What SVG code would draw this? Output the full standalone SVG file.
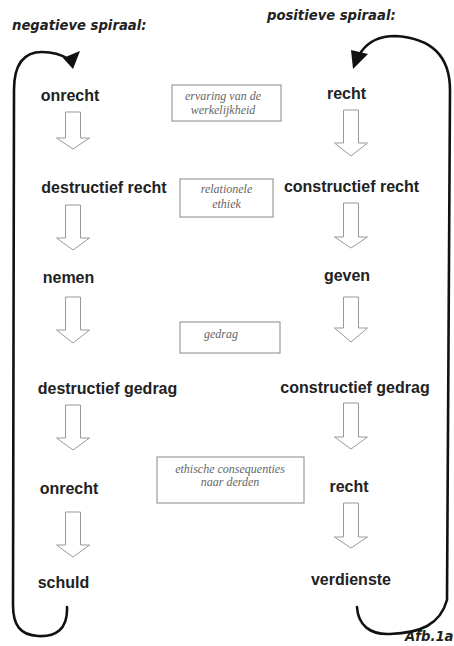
<svg xmlns="http://www.w3.org/2000/svg" width="454" height="646" viewBox="0 0 454 646">
<style>
.title{font-family:"DejaVu Sans",sans-serif;font-weight:bold;font-style:oblique;font-size:13.2px;fill:#222}
.lbl{font-family:"Liberation Sans",Arial,sans-serif;font-weight:bold;font-size:16px;fill:#222;text-anchor:middle}
.box rect{fill:#fff;stroke:#888;stroke-width:1}
.box text{font-family:"Liberation Serif","Times New Roman",serif;font-style:italic;font-size:12px;fill:#666;text-anchor:middle}
.arr{fill:#fff;stroke:#999;stroke-width:1}
.loop{fill:none;stroke:#111;stroke-width:2.6;stroke-linecap:round}
.head{fill:#111}
</style>
<rect width="454" height="646" fill="#fff"/>
<text class="title" x="12" y="30">negatieve spiraal:</text>
<text class="title" x="267" y="20">positieve spiraal:</text>
<text class="title" x="405" y="641">Afb.1a</text>

<g id="connectors">
<path class="loop" d="M67 607 C68 630 55 637 38 636 C20 635 13 625 13 605 L14 90 C14 62 25 52 42 52 C55 52 62 55 68 59"/>
<polygon class="head" points="63,58 80,51 73,69"/>
<path class="loop" d="M357 607 C358 625 370 635 390 634 C420 633 440 625 447 600 L450 90 C450 55 430 38 395 36 C380 36 368 42 361 52"/>
<polygon class="head" points="351,50 368,54 353,69"/>
<path class="arr" d="M65.5 112 H80.5 V138 H89.5 L73 149 L56.5 138 H65.5 Z"/>
<path class="arr" d="M65.5 205 H80.5 V238 H89.5 L73 250 L56.5 238 H65.5 Z"/>
<path class="arr" d="M65.5 297 H80.5 V330 H89.5 L73 343 L56.5 330 H65.5 Z"/>
<path class="arr" d="M65.5 405 H80.5 V438 H89.5 L73 450 L56.5 438 H65.5 Z"/>
<path class="arr" d="M65.5 512 H80.5 V545 H89.5 L73 557 L56.5 545 H65.5 Z"/>
<path class="arr" d="M343.5 110 H358.5 V143 H367.5 L351 156 L334.5 143 H343.5 Z"/>
<path class="arr" d="M343.5 203 H358.5 V237 H367.5 L351 248 L334.5 237 H343.5 Z"/>
<path class="arr" d="M343.5 297 H358.5 V328 H367.5 L351 342 L334.5 328 H343.5 Z"/>
<path class="arr" d="M343.5 403 H358.5 V437 H367.5 L351 449 L334.5 437 H343.5 Z"/>
<path class="arr" d="M343.5 503 H358.5 V537 H367.5 L351 548 L334.5 537 H343.5 Z"/>
</g>

<g id="n-onrecht1"><text class="lbl" x="70" y="101">onrecht</text></g>
<g id="n-recht1"><text class="lbl" x="346.5" y="99">recht</text></g>
<g id="n-destructief-recht"><text class="lbl" x="104" y="193">destructief recht</text></g>
<g id="n-constructief-recht"><text class="lbl" x="351.5" y="192">constructief recht</text></g>
<g id="n-nemen"><text class="lbl" x="68.5" y="283">nemen</text></g>
<g id="n-geven"><text class="lbl" x="347" y="281">geven</text></g>
<g id="n-destructief-gedrag"><text class="lbl" x="107.5" y="394">destructief gedrag</text></g>
<g id="n-constructief-gedrag"><text class="lbl" x="355" y="393">constructief gedrag</text></g>
<g id="n-onrecht2"><text class="lbl" x="69" y="494">onrecht</text></g>
<g id="n-recht2"><text class="lbl" x="349" y="492">recht</text></g>
<g id="n-schuld"><text class="lbl" x="63.5" y="588">schuld</text></g>
<g id="n-verdienste"><text class="lbl" x="351" y="585">verdienste</text></g>

<g id="b-ervaring" class="box"><rect x="172" y="85" width="109" height="36"/><text x="223" y="100">ervaring van de</text><text x="223" y="114">werkelijkheid</text></g>
<g id="b-relationele" class="box"><rect x="180" y="179" width="93" height="38"/><text x="226.5" y="193">relationele</text><text x="226.5" y="208">ethiek</text></g>
<g id="b-gedrag" class="box"><rect x="180" y="322" width="100" height="31"/><text x="221" y="338">gedrag</text></g>
<g id="b-ethische" class="box"><rect x="157" y="457" width="147" height="46"/><text x="230" y="473">ethische consequenties</text><text x="230" y="486">naar derden</text></g>
</svg>
